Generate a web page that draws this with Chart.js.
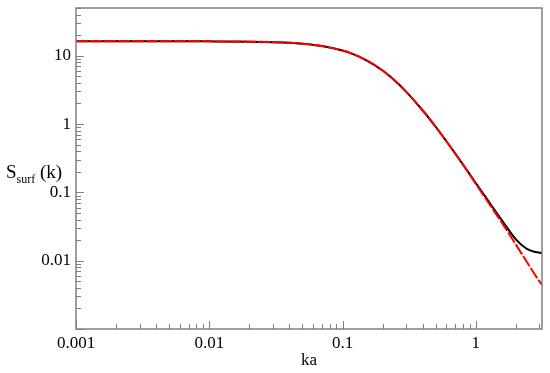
<!DOCTYPE html>
<html>
<head>
<meta charset="utf-8">
<script src="https://cdn.jsdelivr.net/npm/chart.js@4"></script>
<style>
  html, body { margin: 0; padding: 0; background: #fff; }
  #contenedor { width: 550px; height: 373px; }
</style>
</head>
<body>
<div id="contenedor"><canvas id="grafico"></canvas></div>
<script>
// valores (ka vs S_surf(k))
const ka = [0.001, 0.002, 0.005, 0.01, 0.02, 0.03, 0.04, 0.05, 0.07, 0.1, 0.12, 0.15, 0.2, 0.25, 0.3, 0.4, 0.5, 0.6, 0.7, 0.85, 1, 1.15, 1.3, 1.6, 2, 2.4, 2.8, 3.14]
const sNegra = [16.3, 16.3, 16.29, 16.24, 16.08, 15.8, 15.44, 14.98, 13.86, 11.9, 10.57, 8.66, 6.07, 4.23, 2.98, 1.58, 0.913, 0.565, 0.372, 0.217, 0.137, 0.093, 0.066, 0.037, 0.0205, 0.0150, 0.0134, 0.0130]
const sRoja = [16.3, 16.3, 16.29, 16.24, 16.08, 15.8, 15.44, 14.98, 13.86, 11.9, 10.57, 8.66, 6.07, 4.23, 2.98, 1.58, 0.913, 0.565, 0.372, 0.216, 0.133, 0.089, 0.062, 0.034, 0.0172, 0.0098, 0.0061, 0.0044]
const xTicks = [0.001, 0.01, 0.1, 1]
const yTicks = [0.01, 0.1, 1, 10]
const xMin = 0.001
const xMax = 3.14
const yMin = 0.001
const yMax = 50

const fuente = '"Liberation Serif", "DejaVu Serif", serif'
const gris = '#808080'

// marcas hacia adentro, marco y titulo del eje y (con subindice)
const marcasPlugin = {
  id: 'marcas',
  afterDraw(chart) {
    const { ctx, chartArea: a, scales: { x, y } } = chart
    ctx.save()
    ctx.strokeStyle = gris
    ctx.lineWidth = 1
    ctx.beginPath()
    for (let d = -3; d <= 1; d++) {
      for (let m = 1; m <= 9; m++) {
        const v = m * Math.pow(10, d)
        const largo = m === 1 ? 8 : 5
        if (v >= xMin && v <= xMax) {
          const px = Math.round(x.getPixelForValue(v)) + 0.5
          ctx.moveTo(px, a.bottom)
          ctx.lineTo(px, a.bottom - largo)
        }
        if (v >= yMin && v <= yMax) {
          const py = Math.round(y.getPixelForValue(v)) + 0.5
          ctx.moveTo(a.left, py)
          ctx.lineTo(a.left + largo, py)
        }
      }
    }
    ctx.stroke()
    ctx.lineWidth = 1.5
    ctx.strokeRect(a.left, a.top, a.right - a.left, a.bottom - a.top)

    ctx.fillStyle = '#000'
    ctx.textBaseline = 'alphabetic'
    ctx.textAlign = 'left'
    let cx = 6
    ctx.font = '19px ' + fuente
    ctx.fillText('S', cx, 178)
    cx += ctx.measureText('S').width
    ctx.font = '12px ' + fuente
    ctx.fillText('surf', cx, 183)
    cx += ctx.measureText('surf').width
    ctx.font = '19px ' + fuente
    ctx.fillText(' (k)', cx, 178)
    ctx.restore()
  }
}

const data = {
  datasets: [
    {
      label: 'S negra',
      data: ka.map((v, i) => ({ x: v, y: sNegra[i] })),
      borderColor: '#000',
      borderWidth: 2,
      pointRadius: 0,
      cubicInterpolationMode: 'monotone',
      order: 2,
    },
    {
      label: 'S roja',
      data: ka.map((v, i) => ({ x: v, y: sRoja[i] })),
      borderColor: '#ff0000',
      borderWidth: 2,
      borderDash: [12, 2],
      pointRadius: 0,
      cubicInterpolationMode: 'monotone',
      order: 1,
    }
  ]
}

const config = {
  type: 'line',
  data: data,
  options: {
    responsive: true,
    maintainAspectRatio: false,
    animation: false,
    layout: { padding: { top: 8, right: 8, left: 0, bottom: 0 } },
    plugins: {
      legend: { display: false },
      tooltip: { enabled: false },
    },
    scales: {
      x: {
        type: 'logarithmic',
        min: xMin,
        max: xMax,
        grid: { display: false, drawTicks: false },
        border: { display: false },
        afterBuildTicks: (s) => { s.ticks = xTicks.map(v => ({ value: v })) },
        afterFit: (s) => { s.height = 44; s.paddingRight = 0 },
        ticks: {
          autoSkip: false,
          maxRotation: 0,
          padding: 4,
          color: '#000',
          font: { family: fuente, size: 17 },
          callback: (v) => String(v),
        },
        title: {
          display: true,
          text: 'ka',
          color: '#000',
          font: { family: fuente, size: 17 },
          padding: { top: 0, bottom: 2 },
        },
      },
      y: {
        type: 'logarithmic',
        min: yMin,
        max: yMax,
        grid: { display: false, drawTicks: false },
        border: { display: false },
        afterBuildTicks: (s) => { s.ticks = yTicks.map(v => ({ value: v })) },
        afterFit: (s) => { s.width = 76; s.paddingTop = 0; s.paddingBottom = 0 },
        ticks: {
          autoSkip: false,
          padding: 5,
          color: '#000',
          font: { family: fuente, size: 17 },
          callback: (v) => String(v),
        },
      },
    },
  },
  plugins: [marcasPlugin],
}

const myChart = new Chart(document.querySelector('#grafico'), config)
</script>
</body>
</html>
